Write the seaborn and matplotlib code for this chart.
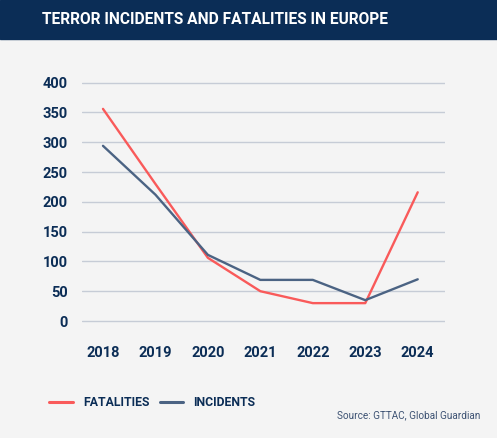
import matplotlib
matplotlib.use("Agg")
import matplotlib.pyplot as plt
import pandas as pd
import seaborn as sns

# Data
years = ["2018", "2019", "2020", "2021", "2022", "2023", "2024"]
fatalities = [356, 230, 106, 50, 30, 30, 216]
incidents = [294, 212, 111, 69, 69, 35, 70]

NAVY = "#0b2d56"
RED = "#f95a5a"
SLATE = "#4b6383"
GRID = "#c6ccd6"
BG = "#f4f4f4"

sns.set_style("white")
plt.rcParams["font.family"] = ["Roboto", "DejaVu Sans"]

df = pd.DataFrame({
    "x": list(range(len(years))) * 2,
    "value": fatalities + incidents,
    "series": ["FATALITIES"] * len(years) + ["INCIDENTS"] * len(years),
})

fig = plt.figure(figsize=(4.97, 4.38), dpi=100)
fig.patch.set_facecolor(BG)

# title bar
fig.patches.append(plt.Rectangle((0, 1 - 39 / 438), 1, 39 / 438, transform=fig.transFigure,
                                 color=NAVY, zorder=0))
fig.text(42 / 497, 1 - 20 / 438, "TERROR INCIDENTS AND FATALITIES IN EUROPE",
         color="white", fontsize=11.2, fontweight="bold", va="center", ha="left")

ax = fig.add_axes([82 / 497, 0.2603, 363 / 497, 0.5578])
ax.set_facecolor(BG)
sns.lineplot(data=df, x="x", y="value", hue="series",
             palette={"FATALITIES": RED, "INCIDENTS": SLATE},
             linewidth=1.7, ax=ax, legend=False, zorder=3)

ax.set_xlim(-0.4, 6.52)
ax.set_ylim(-5, 405)
ax.set_yticks(range(0, 401, 50))
ax.set_xticks(range(len(years)))
ax.set_xticklabels(years)
ax.grid(axis="y", color=GRID, linewidth=1.0)
ax.grid(axis="x", visible=False)
for s in ax.spines.values():
    s.set_visible(False)
ax.set_xlabel("")
ax.set_ylabel("")
ax.tick_params(axis="y", length=0, pad=10, labelsize=10.5, labelcolor=NAVY)
ax.tick_params(axis="x", length=5, color="#e6e8ec", pad=11, labelsize=10.5, labelcolor=NAVY)
for lab in ax.get_xticklabels() + ax.get_yticklabels():
    lab.set_fontweight("bold")

# legend
fig.lines.append(plt.Line2D([49 / 497, 73 / 497], [1 - 402 / 438] * 2,
                            transform=fig.transFigure, color=RED, linewidth=2.2))
fig.text(83 / 497, 1 - 402 / 438, "FATALITIES", color=NAVY, fontsize=8.8,
         fontweight="bold", va="center", ha="left")
fig.lines.append(plt.Line2D([160 / 497, 183 / 497], [1 - 402 / 438] * 2,
                            transform=fig.transFigure, color=SLATE, linewidth=2.2))
fig.text(193 / 497, 1 - 402 / 438, "INCIDENTS", color=NAVY, fontsize=8.8,
         fontweight="bold", va="center", ha="left")

fig.text(480 / 497, 1 - 415 / 438, "Source: GTTAC, Global Guardian", color="#3d5273",
         fontsize=7.2, va="center", ha="right")

fig.savefig("out.png", dpi=100, facecolor=BG)
